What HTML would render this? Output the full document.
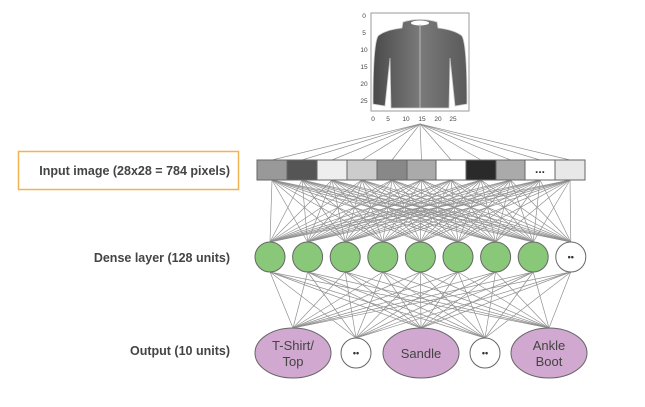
<!DOCTYPE html>
<html><head><meta charset="utf-8"><style>
html,body{margin:0;padding:0;background:#fff;}
svg{display:block;font-family:"Liberation Sans",sans-serif;}
</style></head><body>
<svg id="s" width="645" height="407" viewBox="0 0 645 407" xmlns="http://www.w3.org/2000/svg">
<defs>
<linearGradient id="g" x1="0" x2="1" y1="0" y2="0">
<stop offset="0" stop-color="#4a4a4a"/><stop offset="0.5" stop-color="#7a7a7a"/><stop offset="1" stop-color="#5a5a5a"/>
</linearGradient>
</defs>
<g id="lines" stroke="#909090" stroke-width="0.7"></g>
<rect x="371" y="13" width="98" height="98" fill="#fff" stroke="#999" stroke-width="1"/>
<path d="M403,22 Q420,17 437,22 L438,28 Q455,30 462,36 Q467,45 467,104 L455,106 L450,58 L449,108 L391,108 L390,58 L385,106 L373,104 Q373,45 378,36 Q385,30 402,28 Z" fill="url(#g)" stroke="#ccc" stroke-width="0.8"/>
<ellipse cx="420" cy="23" rx="9" ry="2.5" fill="#fff"/>
<line x1="420" y1="24" x2="420" y2="108" stroke="#ccc" stroke-width="0.8"/>
<g font-size="6.5" fill="#444" text-anchor="middle">
<text x="364" y="18">0</text><text x="364" y="35">5</text><text x="364" y="52">10</text><text x="364" y="69">15</text><text x="364" y="86">20</text><text x="364" y="103">25</text>
<text x="373" y="121">0</text><text x="388" y="121">5</text><text x="406" y="121">10</text><text x="422" y="121">15</text><text x="438" y="121">20</text><text x="453" y="121">25</text>
</g>
<g id="cells"></g>
<g id="dense"></g>
<g id="out"></g>
<rect x="18.5" y="151.5" width="220" height="38" fill="#fff" stroke="#f0b350" stroke-width="1.5"/>
<g font-size="12.5" font-weight="bold" fill="#444" text-anchor="end">
<text x="230" y="175">Input image (28x28 = 784 pixels)</text>
<text x="230" y="262">Dense layer (128 units)</text>
<text x="230" y="355">Output (10 units)</text>
</g>
</svg>
<script>
var NS="http://www.w3.org/2000/svg";
function el(p,t,a,txt){var e=document.createElementNS(NS,t);for(var k in a)e.setAttribute(k,a[k]);if(txt)e.textContent=txt;document.getElementById(p).appendChild(e);return e;}
var xs=[257,287,317,347,377,407,436,466,496,525,555,585];
var cols=["#999","#555","#eee","#ccc","#888","#aaa","#fff","#2a2a2a","#aaa","#fff","#e8e8e8"];
var dx=[],i,j;for(i=0;i<9;i++)dx.push(270+i*37.6);
var ox=[293,356,421,485,549],oy=[328,338,328,338,328];
for(i=0;i<11;i++){var cx=(xs[i]+xs[i+1])/2;
 el("lines","line",{x1:420,y1:124,x2:cx,y2:160});
 for(j=0;j<9;j++)el("lines","line",{x1:cx,y1:180,x2:dx[j],y2:242});
 el("cells","rect",{x:xs[i],y:160,width:xs[i+1]-xs[i],height:20,fill:cols[i],stroke:"#666","stroke-width":1});
}
el("cells","text",{x:(xs[9]+xs[10])/2,y:173,"text-anchor":"middle","font-size":"12","font-weight":"bold",fill:"#333"},"...");
for(j=0;j<9;j++){for(var k=0;k<5;k++)el("lines","line",{x1:dx[j],y1:272,x2:ox[k],y2:oy[k]});
 el("dense","circle",{cx:dx[j],cy:257,r:15,fill:j<8?"#88c878":"#fff",stroke:"#666","stroke-width":1});}
el("dense","text",{x:dx[8],y:260,"text-anchor":"middle","font-size":"9","font-weight":"bold",fill:"#333"},"••");
var lab=[["T-Shirt/","Top"],null,["Sandle"],null,["Ankle","Boot"]];
for(k=0;k<5;k++){
 if(lab[k]){el("out","ellipse",{cx:ox[k],cy:353,rx:38,ry:25,fill:"#d0a8d0",stroke:"#666","stroke-width":1});
  if(lab[k].length==2){el("out","text",{x:ox[k],y:350,"text-anchor":"middle","font-size":"13",fill:"#444"},lab[k][0]);el("out","text",{x:ox[k],y:366,"text-anchor":"middle","font-size":"13",fill:"#444"},lab[k][1]);}
  else el("out","text",{x:ox[k],y:358,"text-anchor":"middle","font-size":"13",fill:"#444"},lab[k][0]);}
 else{el("out","circle",{cx:ox[k],cy:353,r:15,fill:"#fff",stroke:"#666","stroke-width":1});
  el("out","text",{x:ox[k],y:356,"text-anchor":"middle","font-size":"9","font-weight":"bold",fill:"#333"},"••");}
}
</script>
</body></html>
